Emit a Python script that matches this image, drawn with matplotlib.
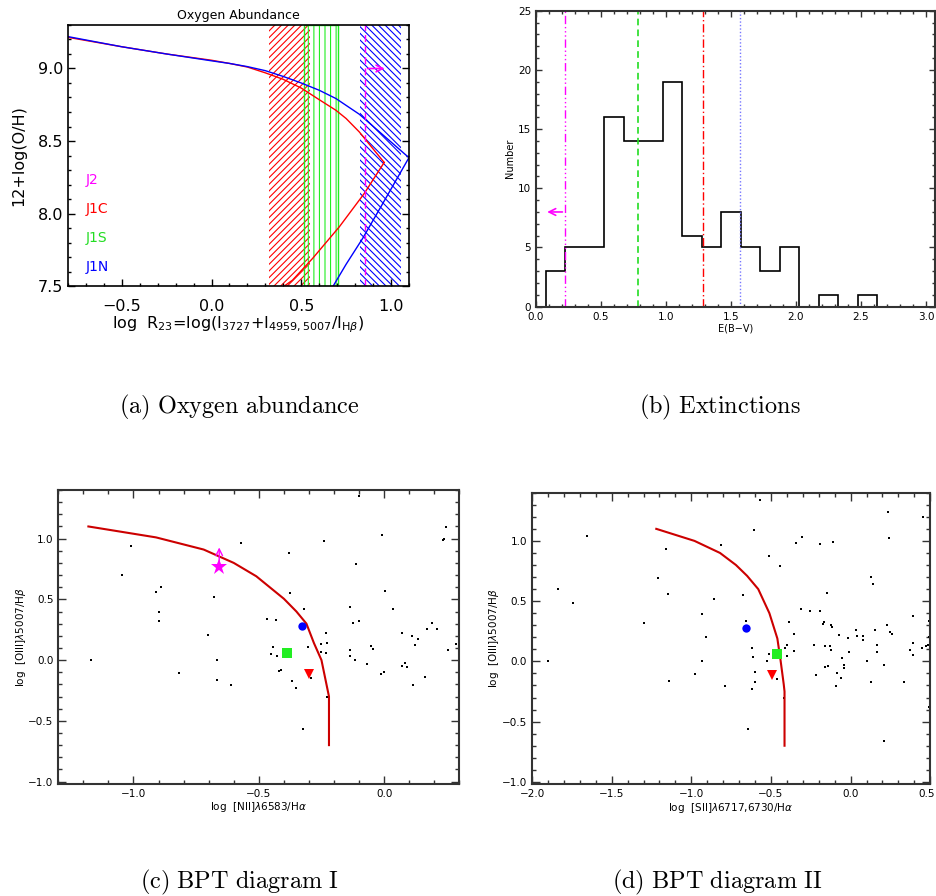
import matplotlib
matplotlib.use('Agg')
import matplotlib.pyplot as plt
from matplotlib.ticker import MultipleLocator
from matplotlib.transforms import ScaledTranslation

plt.rcParams['font.family'] = ['DejaVu Sans']
plt.rcParams['mathtext.fontset'] = 'dejavusans'
plt.rcParams['hatch.linewidth'] = 0.8

# ---------------- data: panel (a) oxygen abundance ----------------
red_upper_x = [-0.80, -0.50, -0.25, 0.00, 0.10, 0.20, 0.30, 0.40, 0.50, 0.60, 0.693, 0.75, 0.823, 0.962]
red_upper_y = [9.215, 9.15, 9.10, 9.057, 9.035, 9.01, 8.97, 8.925, 8.865, 8.785, 8.712, 8.655, 8.563, 8.352]
red_lower_x = [0.962, 0.851, 0.712, 0.563, 0.451, 0.40]
red_lower_y = [8.352, 8.138, 7.908, 7.690, 7.540, 7.495]
blue_upper_x = [-0.80, -0.50, -0.25, 0.00, 0.10, 0.20, 0.30, 0.40, 0.50, 0.60, 0.693, 0.823, 1.10]
blue_upper_y = [9.22, 9.15, 9.10, 9.053, 9.035, 9.013, 8.985, 8.945, 8.90, 8.85, 8.793, 8.685, 8.385]
blue_lower_x = [1.10, 0.95, 0.842, 0.75, 0.678]
blue_lower_y = [8.385, 8.06, 7.828, 7.65, 7.50]
j1c_range = (0.32, 0.548)
j1s_range = (0.518, 0.705)
j1n_range = (0.829, 1.056)
j2_limit = 0.855
j2_arrow = (0.98, 9.0)
region_names = ['J2', 'J1C', 'J1S', 'J1N']
region_colors = ['magenta', 'red', '#22dd22', 'blue']
region_label_y = [8.23, 8.03, 7.83, 7.63]

# ---------------- data: panel (b) extinction histogram ----------------
hist_edges = [0.075, 0.225, 0.375, 0.525, 0.675, 0.825, 0.975, 1.125, 1.275, 1.425,
              1.575, 1.725, 1.875, 2.025, 2.175, 2.325, 2.475, 2.625, 2.775, 2.925, 3.075]
hist_counts = [3, 5, 5, 16, 14, 14, 19, 6, 5, 8, 5, 3, 5, 0, 1, 0, 1, 0, 0, 0]
ebv_j2 = 0.225
ebv_j1s = 0.787
ebv_j1c = 1.287
ebv_j1n = 1.567
ebv_j2_arrow = (0.065, 8.0)

# ---------------- data: panel (c) BPT I ----------------
bpt1_x = [-1.168, -1.008, -1.046, -0.911, -0.892, -0.899, -0.899, -0.819, -0.703, -0.679,
          -0.666, -0.667, -0.611, -0.573, -0.099, -0.008, 0.247, 0.234, 0.238, -0.241,
          -0.380, -0.114, 0.005, -0.375, 0.035, -0.138, -0.318, -0.467, -0.430, -0.126,
          -0.099, -0.232, 0.072, 0.110, 0.134, 0.170, 0.192, 0.213, 0.125, 0.253,
          0.286, -0.253, -0.227, -0.302, -0.250, -0.231, -0.444, -0.452, -0.427, -0.418,
          -0.413, -0.367, -0.350, -0.291, -0.227, -0.322, -0.136, -0.137, -0.117, -0.069,
          -0.051, -0.044, -0.011, -0.001, 0.071, 0.085, 0.091, 0.115, 0.164]
bpt1_y = [0.000, 0.938, 0.698, 0.559, 0.605, 0.396, 0.319, -0.103, 0.204, 0.521,
          0.000, -0.160, -0.204, 0.968, 1.347, 1.033, 1.093, 0.987, 0.995, 0.984,
          0.878, 0.791, 0.570, 0.554, 0.423, 0.437, 0.417, 0.338, 0.330, 0.306,
          0.322, 0.226, 0.224, 0.199, 0.177, 0.256, 0.303, 0.256, 0.126, 0.082,
          0.136, 0.136, 0.139, 0.109, 0.063, 0.060, 0.109, 0.047, 0.036, -0.087,
          -0.085, -0.169, -0.231, -0.147, -0.303, -0.567, 0.087, 0.030, 0.000, -0.035,
          0.114, 0.093, -0.114, -0.098, -0.052, -0.027, -0.054, -0.207, -0.136]
demarc1_x = [-1.18, -0.91, -0.72, -0.60, -0.51, -0.40, -0.35, -0.31, -0.28, -0.25, -0.235, -0.22, -0.22]
demarc1_y = [1.10, 1.01, 0.91, 0.80, 0.69, 0.505, 0.40, 0.30, 0.14, 0.0, -0.15, -0.30, -0.70]
j2_bpt1 = (-0.658, 0.77, 0.95)
j1n_bpt1 = (-0.326, 0.278)
j1s_bpt1 = (-0.387, 0.060)
j1c_bpt1 = (-0.298, -0.114)

# ---------------- data: panel (d) BPT II ----------------
bpt2_x = [-1.658, -1.836, -1.740, -1.901, -1.295, -1.158, -1.207, -1.148, -1.142, -0.931,
          -0.906, -0.936, -0.976, -0.856, -0.812, -0.787, -0.571, -0.608, -0.512, -0.443,
          -0.346, -0.306, -0.195, -0.111, 0.233, 0.240, 0.454, 0.129, 0.143, -0.149,
          -0.673, -0.310, -0.256, -0.195, 0.393, -0.657, -0.388, -0.172, -0.166, -0.123,
          -0.119, -0.356, -0.073, -0.016, 0.034, 0.038, 0.080, 0.078, 0.150, 0.231,
          0.246, 0.259, 0.495, 0.489, 0.391, 0.370, 0.393, 0.448, 0.473, 0.485,
          0.166, 0.166, 0.210, 0.127, 0.338, 0.105, -0.008, -0.233, -0.163, -0.128,
          -0.122, -0.052, -0.042, -0.043, -0.088, -0.059, -0.090, -0.163, -0.144, -0.216,
          0.210, 0.495, -0.619, -0.613, -0.600, -0.602, -0.617, -0.646, -0.512, -0.525,
          -0.497, -0.462, -0.421, -0.415, -0.399, -0.402, -0.356]
bpt2_y = [1.041, 0.602, 0.487, 0.000, 0.317, 0.934, 0.692, 0.557, -0.161, 0.393,
          0.202, 0.000, -0.104, 0.520, 0.965, -0.202, 1.342, 1.090, 0.875, 0.790,
          0.979, 1.030, 0.975, 0.987, 1.241, 1.022, 1.202, 0.700, 0.639, 0.569,
          0.552, 0.432, 0.416, 0.421, 0.380, 0.334, 0.328, 0.311, 0.323, 0.301,
          0.282, 0.227, 0.221, 0.194, 0.257, 0.211, 0.211, 0.175, 0.257, 0.301,
          0.243, 0.224, 0.334, 0.202, 0.151, 0.098, 0.055, 0.107, 0.126, 0.139,
          0.134, 0.080, -0.027, -0.175, -0.175, 0.000, 0.074, 0.137, 0.126, 0.126,
          0.096, 0.030, -0.027, -0.054, -0.095, -0.136, -0.207, -0.046, -0.035, -0.115,
          -0.661, -0.375, 0.110, 0.036, -0.090, -0.169, -0.230, -0.563, 0.061, 0.003,
          -0.090, -0.145, -0.300, 0.107, 0.134, 0.047, 0.085]
demarc2_x = [-1.22, -0.98, -0.82, -0.72, -0.65, -0.58, -0.51, -0.46, -0.44, -0.42, -0.415, -0.415]
demarc2_y = [1.10, 1.00, 0.90, 0.80, 0.71, 0.60, 0.40, 0.19, 0.01, -0.19, -0.25, -0.70]
j1n_bpt2 = (-0.654, 0.276)
j1s_bpt2 = (-0.462, 0.061)
j1c_bpt2 = (-0.493, -0.109)

captions = [r'$\mathrm{(a)\ Oxygen\ abundance}$', r'$\mathrm{(b)\ Extinctions}$',
            r'$\mathrm{(c)\ BPT\ diagram\ I}$', r'$\mathrm{(d)\ BPT\ diagram\ II}$']

# ---------------- figure ----------------
fig = plt.figure(figsize=(9.36, 8.96), dpi=100)
minus_fmt = plt.FuncFormatter(lambda v, p: f'{v:.1f}'.replace('-', '\u2212'))


def idl_ticks(ax, top=True, right=True, size=7.5, color='#333333', lmaj=6, lmin=3):
    ax.minorticks_on()
    ax.tick_params(which='both', direction='in', top=top, right=right, colors=color,
                   labelcolor='black', labelsize=size)
    ax.tick_params(which='major', length=lmaj, width=1.0)
    ax.tick_params(which='minor', length=lmin, width=1.0)


# ---- panel (a)
axa = fig.add_axes([0.0726, 0.6808, 0.3643, 0.2913])
axa.axvspan(*j1c_range, facecolor='none', edgecolor='red', hatch='/////', linewidth=0)
axa.axvspan(*j1s_range, facecolor='none', edgecolor='#22ee22', hatch='|||', linewidth=1.0)
axa.axvspan(*j1n_range, facecolor='none', edgecolor='blue', hatch='\\\\\\\\\\', linewidth=0)
axa.plot(red_upper_x, red_upper_y, color='red', lw=1.0)
axa.plot(red_lower_x, red_lower_y, color='red', lw=1.0)
axa.plot(blue_upper_x, blue_upper_y, color='blue', lw=1.0)
axa.plot(blue_lower_x, blue_lower_y, color='blue', lw=1.0)
axa.axvline(j2_limit, color='magenta', ls=(0, (5, 3)), lw=1.0)
axa.annotate('', xy=j2_arrow, xytext=(j2_limit, j2_arrow[1]),
             arrowprops=dict(arrowstyle='->', color='magenta', lw=1.2, mutation_scale=12))
for name, col, yy in zip(region_names, region_colors, region_label_y):
    axa.text(-0.70, yy, name, color=col, fontsize=10, va='center', ha='left')
axa.set_xlim(-0.8, 1.1)
axa.set_ylim(7.5, 9.3)
axa.xaxis.set_major_locator(MultipleLocator(0.5))
axa.xaxis.set_minor_locator(MultipleLocator(0.1))
axa.yaxis.set_major_locator(MultipleLocator(0.5))
axa.yaxis.set_minor_locator(MultipleLocator(0.1))
idl_ticks(axa, top=False, right=True, size=11.5, color='black', lmaj=5, lmin=2.5)
axa.tick_params(axis='x', pad=9)
axa.xaxis.set_major_formatter(minus_fmt)
axa.yaxis.set_major_formatter(plt.FuncFormatter(lambda v, p: f'{v:.1f}'))
axa.set_title('Oxygen Abundance', fontsize=9, pad=4)
axa.set_ylabel('12+log(O/H)', fontsize=11.5, labelpad=8)
axa.set_xlabel(r'log  R$_{23}$=log(I$_{3727}$+I$_{4959,5007}$/I$_{\mathrm{H}\beta}$)', fontsize=11.5, labelpad=1)
for s in axa.spines.values():
    s.set_linewidth(1.2)

# ---- panel (b)
axb = fig.add_axes([0.5726, 0.6577, 0.4264, 0.3304])
axb.stairs(hist_counts, hist_edges, color='black', lw=1.2, baseline=0)
axb.axvline(ebv_j2, color='magenta', ls=(0, (6, 2, 1, 2, 1, 2, 1, 2)), lw=1.0)
axb.axvline(ebv_j1s, color='#22dd22', ls=(0, (4, 2.5)), lw=1.2)
axb.axvline(ebv_j1c, color='red', ls=(0, (6, 2, 1, 2)), lw=1.0)
axb.axvline(ebv_j1n, color='#7777ff', ls=(0, (1, 1.5)), lw=1.0)
axb.annotate('', xy=ebv_j2_arrow, xytext=(ebv_j2, ebv_j2_arrow[1]),
             arrowprops=dict(arrowstyle='->', color='magenta', lw=1.2, mutation_scale=12))
axb.set_xlim(0, 3.07)
axb.set_ylim(0, 25)
axb.xaxis.set_major_locator(MultipleLocator(0.5))
axb.xaxis.set_minor_locator(MultipleLocator(0.1))
axb.yaxis.set_major_locator(MultipleLocator(5))
axb.yaxis.set_minor_locator(MultipleLocator(1))
idl_ticks(axb, size=7.5, lmaj=4, lmin=2)
axb.tick_params(axis='x', pad=4)
axb.set_ylabel('Number', fontsize=7, labelpad=2)
axb.set_xlabel('E(B\u2212V)', fontsize=7, labelpad=1)
for s in axb.spines.values():
    s.set_linewidth(1.5)
    s.set_color('#333333')


def bpt_axes(ax, xlim, xlabel):
    ax.set_xlim(*xlim)
    ax.set_ylim(-1.02, 1.4)
    ax.xaxis.set_major_locator(MultipleLocator(0.5))
    ax.xaxis.set_minor_locator(MultipleLocator(0.1))
    ax.yaxis.set_major_locator(MultipleLocator(0.5))
    ax.yaxis.set_minor_locator(MultipleLocator(0.1))
    idl_ticks(ax, size=7.5, lmaj=6, lmin=3)
    ax.xaxis.set_major_formatter(minus_fmt)
    ax.yaxis.set_major_formatter(minus_fmt)
    ax.set_xlabel(xlabel, fontsize=7.5, labelpad=1)
    ax.set_ylabel(r'log  [OIII]$\lambda$5007/H$\beta$', fontsize=7.5, labelpad=0.5)
    for s in ax.spines.values():
        s.set_linewidth(1.5)
        s.set_color('#333333')


# ---- panel (c)
axc = fig.add_axes([0.0623, 0.1250, 0.4284, 0.3281])
axc.plot(bpt1_x, bpt1_y, 's', color='black', ms=2.0, mew=0)
axc.plot(demarc1_x, demarc1_y, color='#cc0000', lw=1.5)
axc.annotate('', xy=(j2_bpt1[0], j2_bpt1[2]), xytext=(j2_bpt1[0], j2_bpt1[1]),
             arrowprops=dict(arrowstyle='->', color='magenta', lw=1.0, mutation_scale=12))
axc.plot(j2_bpt1[0], j2_bpt1[1], '*', color='magenta', ms=12, mew=0)
axc.plot(*j1n_bpt1, 'o', color='blue', ms=6, mew=0)
axc.plot(*j1s_bpt1, 's', color='#22ee22', ms=6.5, mew=0)
axc.plot(*j1c_bpt1, 'v', color='red', ms=7, mew=0)
bpt_axes(axc, (-1.3, 0.3), r'log  [NII]$\lambda$6583/H$\alpha$')

# ---- panel (d)
axd = fig.add_axes([0.5684, 0.1247, 0.4255, 0.3254])
axd.plot(bpt2_x, bpt2_y, 's', color='black', ms=2.0, mew=0)
axd.plot(demarc2_x, demarc2_y, color='#cc0000', lw=1.5)
axd.plot(*j1n_bpt2, 'o', color='blue', ms=6, mew=0)
axd.plot(*j1s_bpt2, 's', color='#22ee22', ms=6.5, mew=0)
axd.plot(*j1c_bpt2, 'v', color='red', ms=7, mew=0)
bpt_axes(axd, (-2.0, 0.5), r'log  [SII]$\lambda$6717,6730/H$\alpha$')

# keep the last tick label of (d) inside the canvas
fig.canvas.draw()
for lbl in axd.get_xticklabels():
    if lbl.get_text() == '0.5':
        lbl.set_horizontalalignment('right')
        lbl.set_transform(lbl.get_transform() + ScaledTranslation(5 / 100, 0, fig.dpi_scale_trans))

# ---- captions
cap_font = dict(fontsize=17.5, ha='center', va='center', math_fontfamily='cm')
fig.text(0.256, 0.5458, captions[0], **cap_font)
fig.text(0.769, 0.5458, captions[1], **cap_font)
fig.text(0.256, 0.0156, captions[2], **cap_font)
fig.text(0.766, 0.0156, captions[3], **cap_font)

fig.savefig('out.png', dpi=100)
